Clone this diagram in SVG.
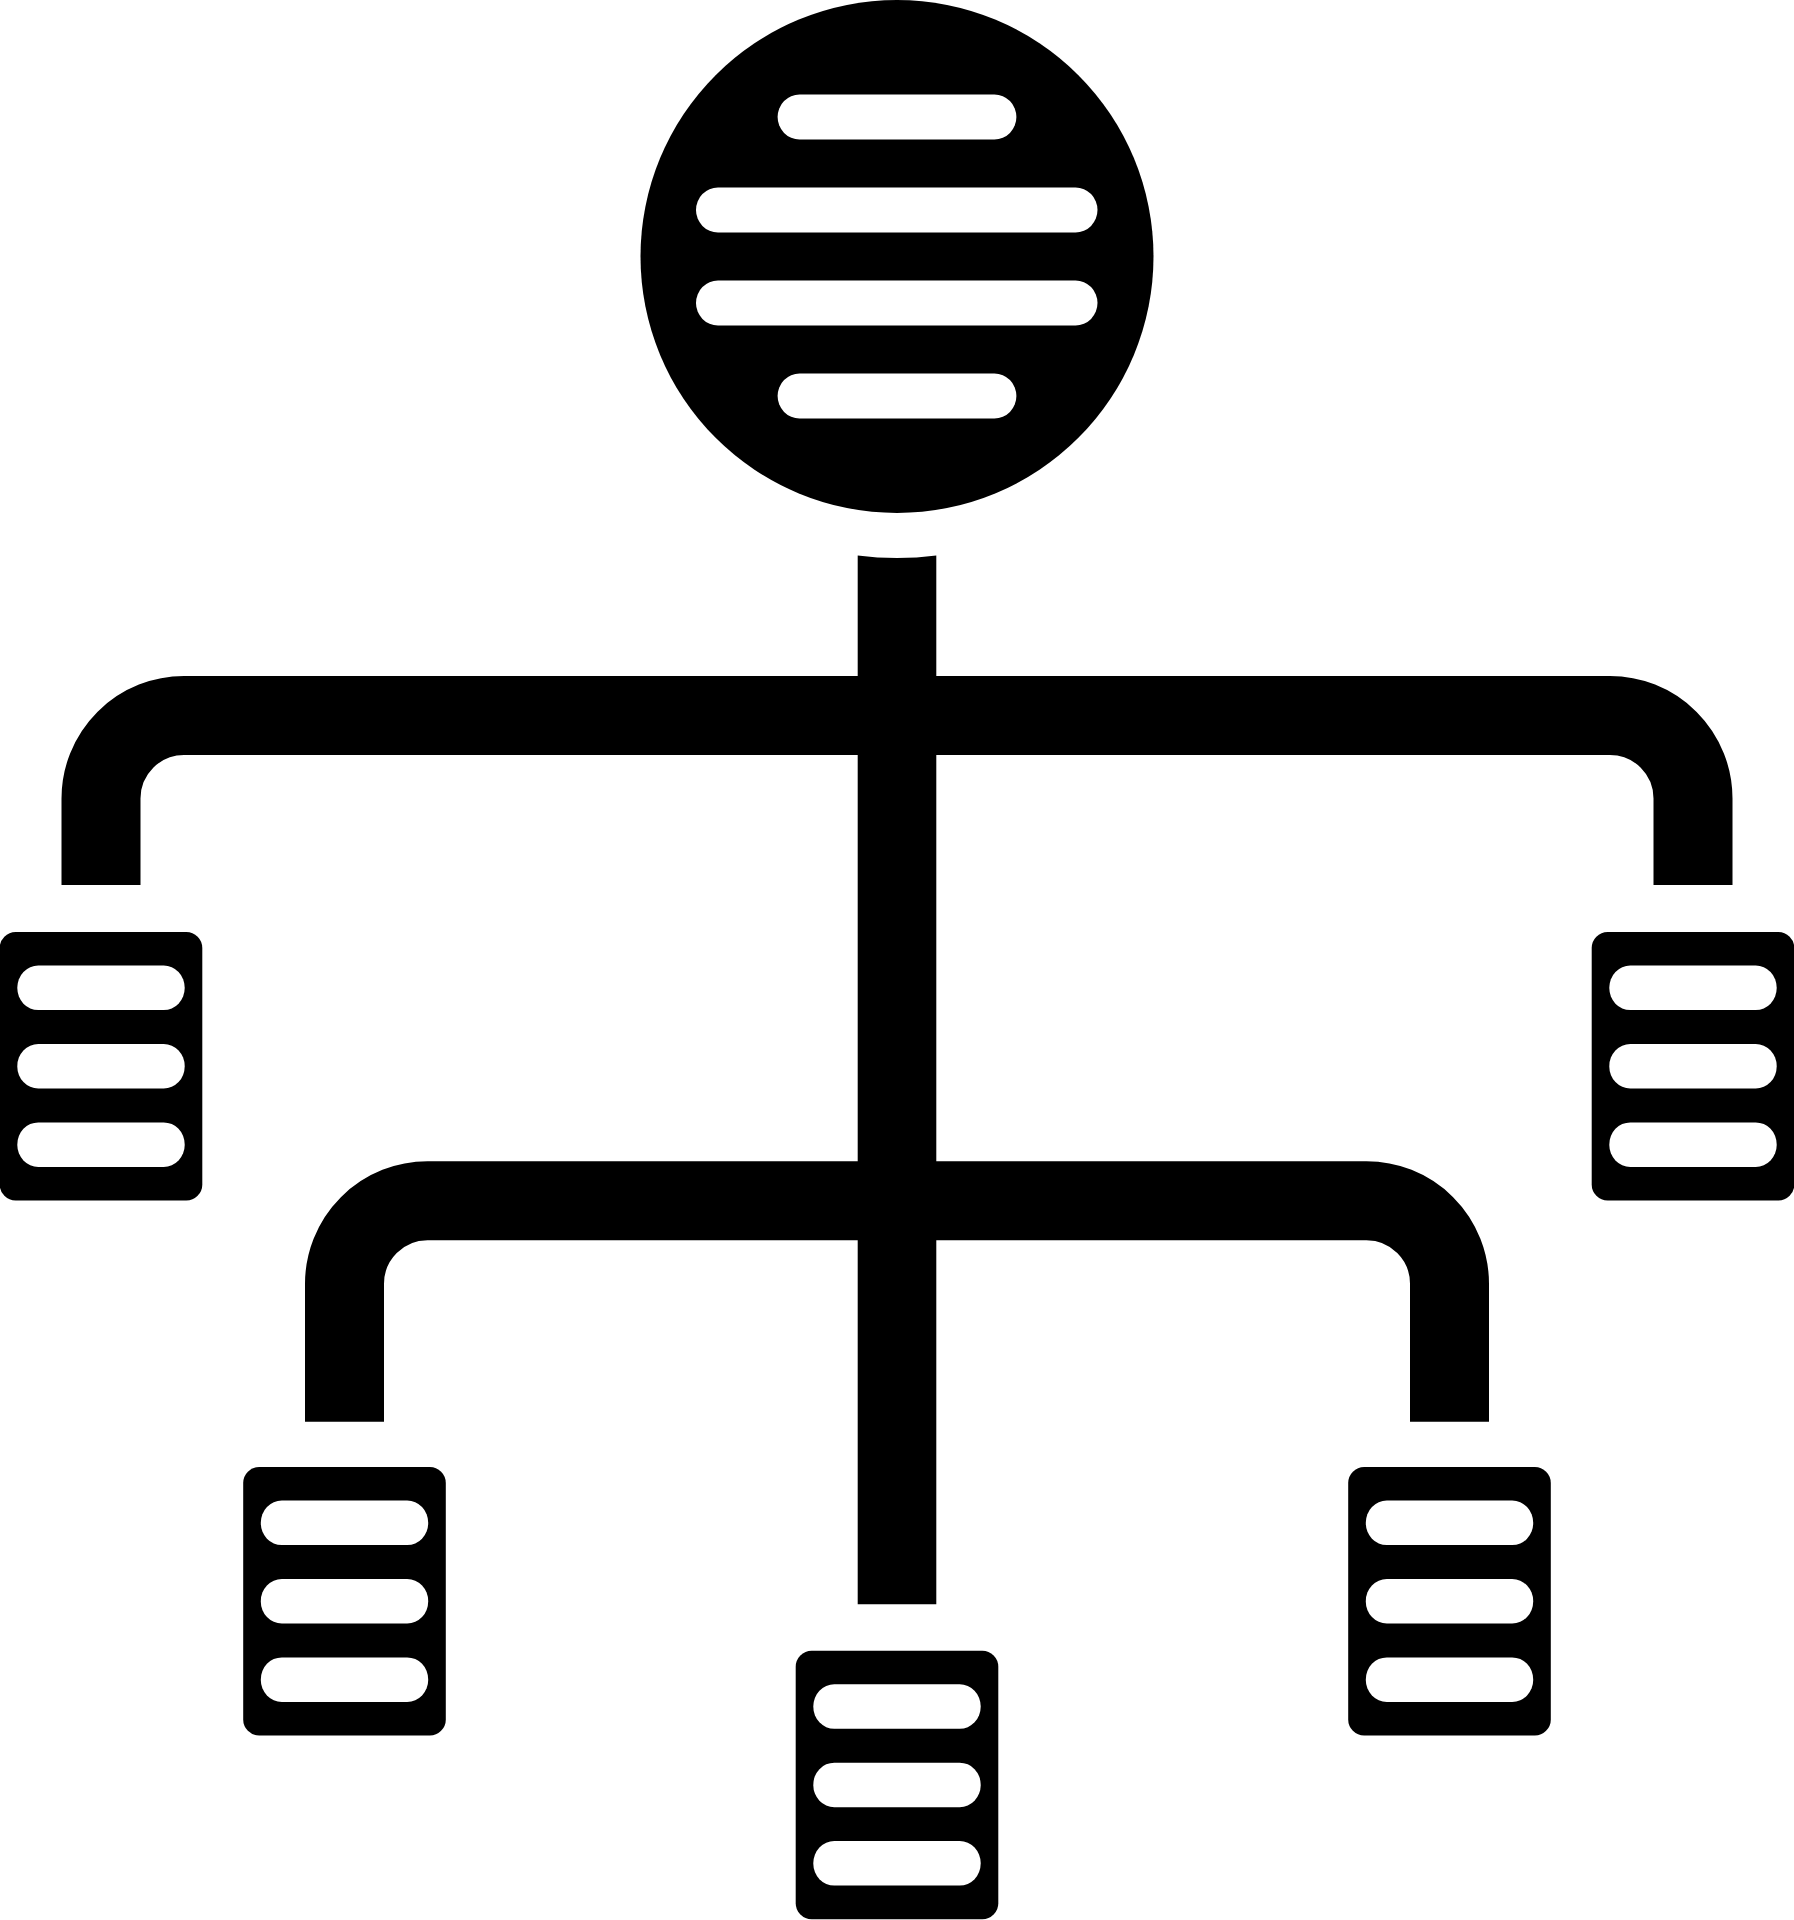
<svg xmlns="http://www.w3.org/2000/svg" width="1794" height="1920" viewBox="0 0 1794 1920">
<defs>
<style>
.ink{fill:#000}
.hole{fill:#fff}
.wire{fill:none;stroke:#000;stroke-width:79;stroke-linecap:butt;stroke-linejoin:round}
</style>
<g id="box">
<rect class="ink" x="-101.3" y="0" width="202.6" height="268.5" rx="16" ry="16"/>
<rect class="hole" x="-83.7" y="33.6" width="167.4" height="44.5" rx="21" ry="22"/>
<rect class="hole" x="-83.7" y="112" width="167.4" height="44.5" rx="21" ry="22"/>
<rect class="hole" x="-83.7" y="190.4" width="167.4" height="44.5" rx="21" ry="22"/>
</g>
</defs>
<rect width="1794" height="1920" fill="#fff"/>
<g id="connectors">
<path class="wire" d="M101 885 V798.5 A83 83 0 0 1 184 715.5 H1610 A83 83 0 0 1 1693 798.5 V885"/>
<path class="wire" d="M344.5 1421.8 V1283.75 A83 83 0 0 1 427.5 1200.75 H1366.5 A83 83 0 0 1 1449.5 1283.75 V1421.8"/>
<path class="ink" d="M857.7 555.4 A301.5 301.5 0 0 0 936.3 555.4 V1604.3 H857.7 Z"/>
</g>
<g id="root">
<circle class="ink" cx="897" cy="256.5" r="256.5"/>
<rect class="hole" x="777.6" y="94.5" width="238.8" height="45" rx="22" ry="22.5"/>
<rect class="hole" x="696" y="187.5" width="401.5" height="45" rx="22" ry="22.5"/>
<rect class="hole" x="696" y="280.5" width="401.5" height="45" rx="22" ry="22.5"/>
<rect class="hole" x="777.6" y="373.5" width="238.8" height="45" rx="22" ry="22.5"/>
</g>
<g id="node-left"><use href="#box" x="101" y="932"/></g>
<g id="node-right"><use href="#box" x="1693" y="932"/></g>
<g id="node-lower-left"><use href="#box" x="344.5" y="1467"/></g>
<g id="node-lower-right"><use href="#box" x="1449.5" y="1467"/></g>
<g id="node-bottom"><use href="#box" x="897" y="1650.7"/></g>
</svg>
